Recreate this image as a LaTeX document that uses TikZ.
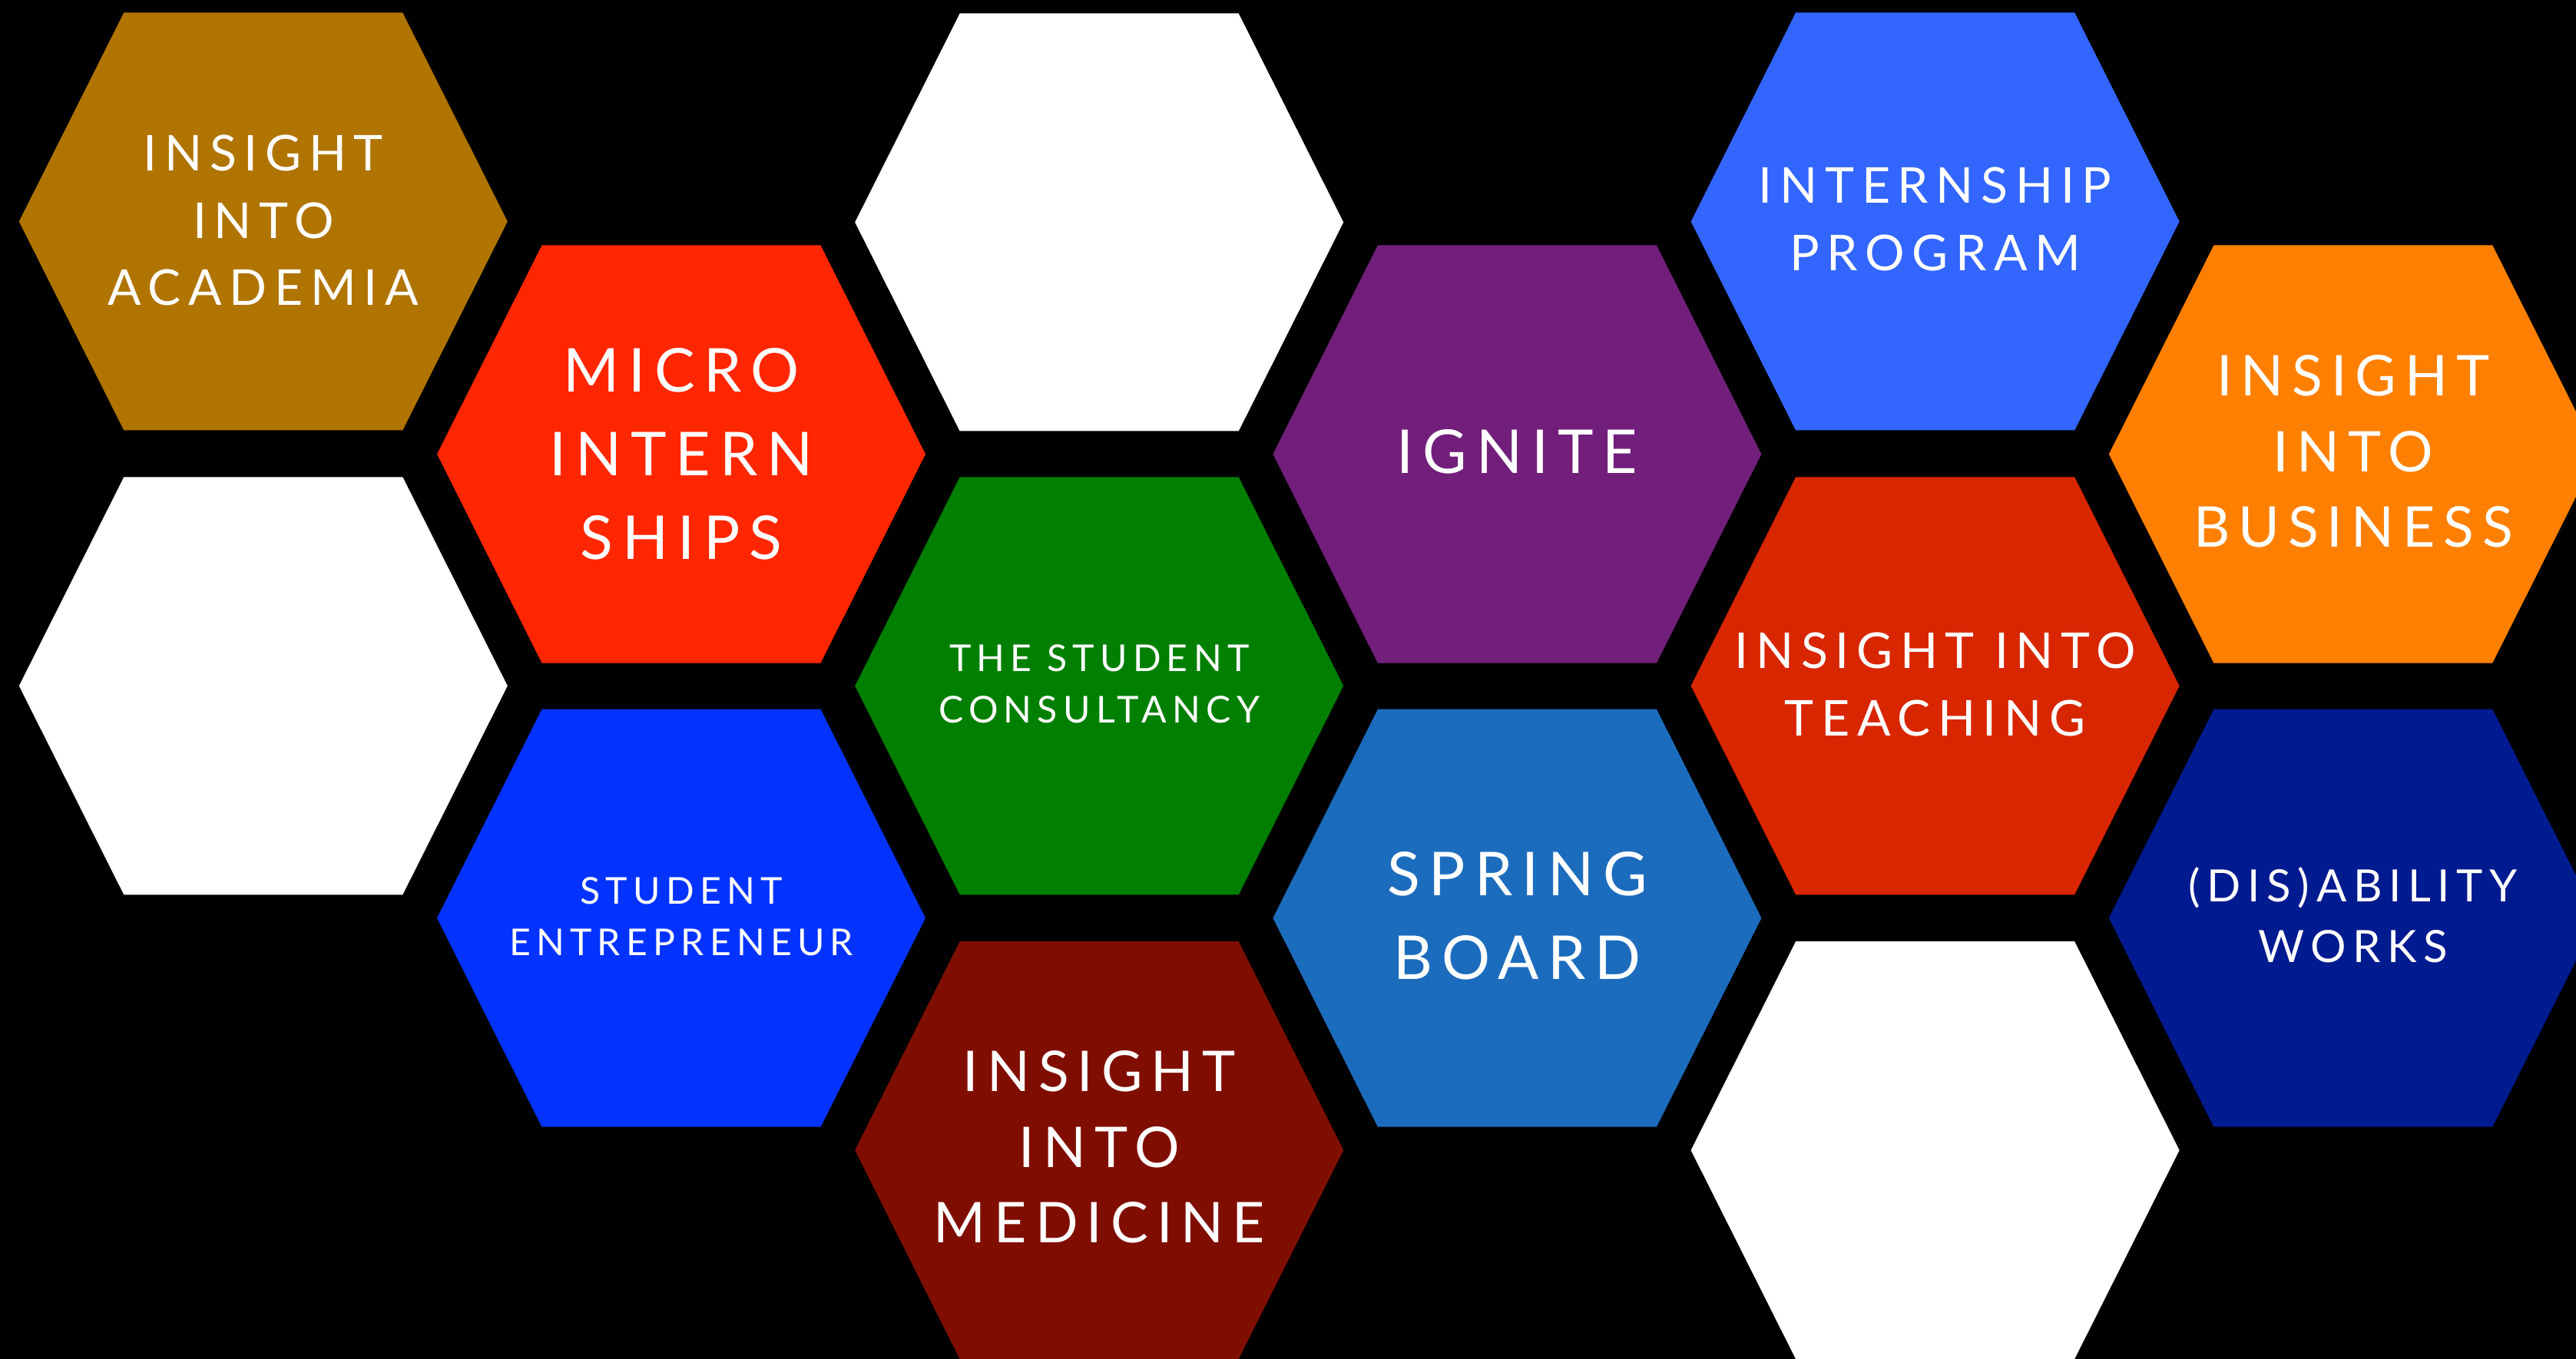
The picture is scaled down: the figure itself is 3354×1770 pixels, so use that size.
\documentclass[tikz,border=0pt]{standalone}
\usepackage{fontspec}
\newfontfamily\hexfont[LetterSpace=15]{Lato}
\definecolor{academia}{HTML}{B07400}
\definecolor{micro}{HTML}{FF2600}
\definecolor{entrepreneur}{HTML}{0433FF}
\definecolor{consultancy}{HTML}{007F00}
\definecolor{medicine}{HTML}{7F0E00}
\definecolor{ignite}{HTML}{711F7B}
\definecolor{springboard}{HTML}{1C6CBE}
\definecolor{internship}{HTML}{3366FF}
\definecolor{teaching}{HTML}{D82600}
\definecolor{business}{HTML}{FF8000}
\definecolor{disability}{HTML}{001A90}

\begin{document}
\begin{tikzpicture}[x=0.01cm, y=-0.01cm,
  every node/.style={text=white, align=center, inner sep=0pt},
  txtbig/.style={font=\hexfont\fontsize{22.4}{31}\selectfont},
  txtmid/.style={font=\hexfont\fontsize{20.8}{28}\selectfont},
  txtnorm/.style={font=\hexfont\fontsize{18.3}{25}\selectfont},
  txtsmall/.style={font=\hexfont\fontsize{16.5}{22.5}\selectfont},
  txttiny/.style={font=\hexfont\fontsize{13.7}{19}\selectfont}]
\fill[black] (0,0) rectangle (3354,1770);
\clip (0,0) rectangle (3354,1770);

% honeycomb cells: centre x / centre y / colour
\foreach \x/\y/\c in {342.8/288.5/academia, 342.8/893.3/white,
  887.0/591.5/micro, 887.0/1195.7/entrepreneur,
  1431.2/289.5/white, 1431.2/893.3/consultancy, 1431.2/1498.1/medicine,
  1975.4/591.5/ignite, 1975.4/1195.7/springboard,
  2519.6/288.5/internship, 2519.6/893.3/teaching, 2519.6/1498.1/white,
  3063.8/591.5/business, 3063.8/1195.7/disability}
  \fill[\c] (\x,\y) ++(-318,0) -- ++(136.5,-272) -- ++(363,0) -- ++(136.5,272)
    -- ++(-136.5,272) -- ++(-363,0) -- cycle;

% labels
\node (academia) [txtnorm] at (342.8,287) {INSIGHT\\INTO\\ACADEMIA};
\node (micro) [txtbig] at (887.0,591) {MICRO\\INTERN\\SHIPS};
\node (entrepreneur) [txttiny] at (887.0,1194) {STUDENT\\ENTREPRENEUR};
\node (consultancy) [txttiny] at (1431.2,891) {THE STUDENT\\CONSULTANCY};
\node (medicine) [txtmid] at (1431.2,1494) {INSIGHT\\INTO\\MEDICINE};
\node (ignite) [txtbig] at (1975.4,588) {IGNITE};
\node (springboard) [txtbig] at (1975.4,1193) {SPRING\\BOARD};
\node (internship) [txtnorm] at (2519.6,285) {INTERNSHIP\\PROGRAM};
\node (teaching) [txtnorm] at (2519.6,891) {INSIGHT INTO\\TEACHING};
\node (business) [txtmid] at (3063.8,588) {INSIGHT\\INTO\\BUSINESS};
\node (disability) [txtsmall] at (3063.8,1192) {(DIS)ABILITY\\WORKS};
\end{tikzpicture}
\end{document}
